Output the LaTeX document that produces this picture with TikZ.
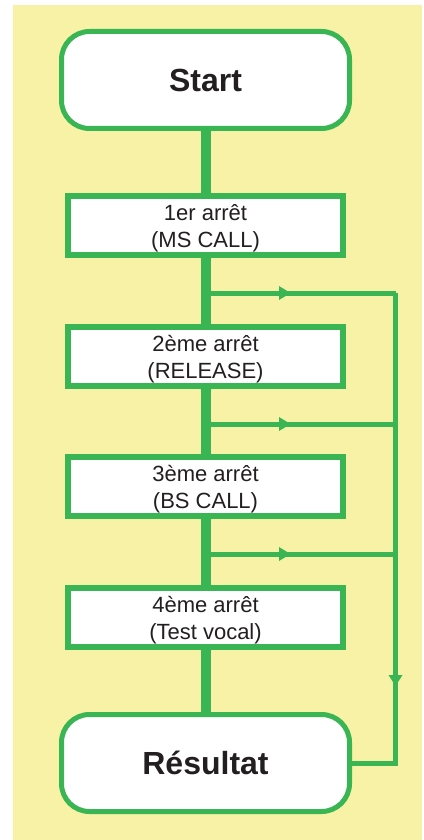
\documentclass[tikz,border=0pt]{standalone}
\usepackage{fontspec}
\setmainfont{Liberation Sans}
\definecolor{grn}{RGB}{57,181,84}
\definecolor{ylw}{RGB}{248,242,166}
\definecolor{ink}{RGB}{35,31,32}
\begin{document}
\begin{tikzpicture}[x=1pt,y=-1pt,
  term/.style={draw=grn,line width=5pt,fill=white,rounded corners=28pt,
    minimum width=288pt,minimum height=97pt,inner sep=0pt,
    text=ink,font=\fontsize{32}{36}\selectfont\bfseries},
  stepbox/.style={draw=grn,line width=6pt,fill=white,
    minimum width=275pt,minimum height=59pt,inner sep=0pt},
  steptext/.style={text=ink,align=center,inner sep=0pt,
    font=\fontsize{22}{26.7}\selectfont},
  mainline/.style={draw=grn,line width=10pt},
  branch/.style={draw=grn,line width=5pt,miter limit=10},
  head/.style={fill=grn}
  ]
\useasboundingbox (0,0) rectangle (423,840);
\fill[white] (0,0) rectangle (423,840);
\fill[ylw] (13,5) rectangle (422,840);

\node[term] (start) at (205.5,80) {\raisebox{-2pt}{Start}};
\node[stepbox] (b1) at (205.5,225.5) {};
\node[stepbox] (b2) at (205.5,356) {};
\node[stepbox] (b3) at (205.5,486.5) {};
\node[stepbox] (b4) at (205.5,617.5) {};
\node[steptext] (t1) at ([yshift=-3pt]b1.center) {1er arrêt\\(MS CALL)};
\node[steptext] (t2) at ([yshift=-3pt]b2.center) {2ème arrêt\\(RELEASE)};
\node[steptext] (t3) at ([yshift=-3pt]b3.center) {3ème arrêt\\(BS CALL)};
\node[steptext] (t4) at ([yshift=-3pt]b4.center) {4ème arrêt\\(Test vocal)};
\node[term] (res) at (205.5,763) {Résultat};

\coordinate (j1) at (205.5,293);
\coordinate (j2) at (205.5,424);
\coordinate (j3) at (205.5,554);
\coordinate (r1) at (395.5,293);
\coordinate (r2) at (395.5,424);
\coordinate (r3) at (395.5,554);
\coordinate (rb) at (395.5,763);
\coordinate (dn) at (395.5,686);

\draw[mainline] (start.south) -- (b1.north);
\draw[mainline] (b1.south) -- (b2.north);
\draw[mainline] (b2.south) -- (b3.north);
\draw[mainline] (b3.south) -- (b4.north);
\draw[mainline] (b4.south) -- (res.north);

\draw[branch] (j1) -- (r1);
\draw[branch] (j2) -- (r2);
\draw[branch] (j3) -- (r3);
\draw[branch] (r1) -- (rb) -- (res.east);

\foreach \j in {j1,j2,j3}{
  \fill[head] ([shift={(73.5,-7)}]\j) -- ([shift={(85,0)}]\j) -- ([shift={(73.5,7)}]\j) -- cycle;
}
\fill[head] ([shift={(-7,-11)}]dn) -- (dn) -- ([shift={(7,-11)}]dn) -- cycle;
\end{tikzpicture}
\end{document}
